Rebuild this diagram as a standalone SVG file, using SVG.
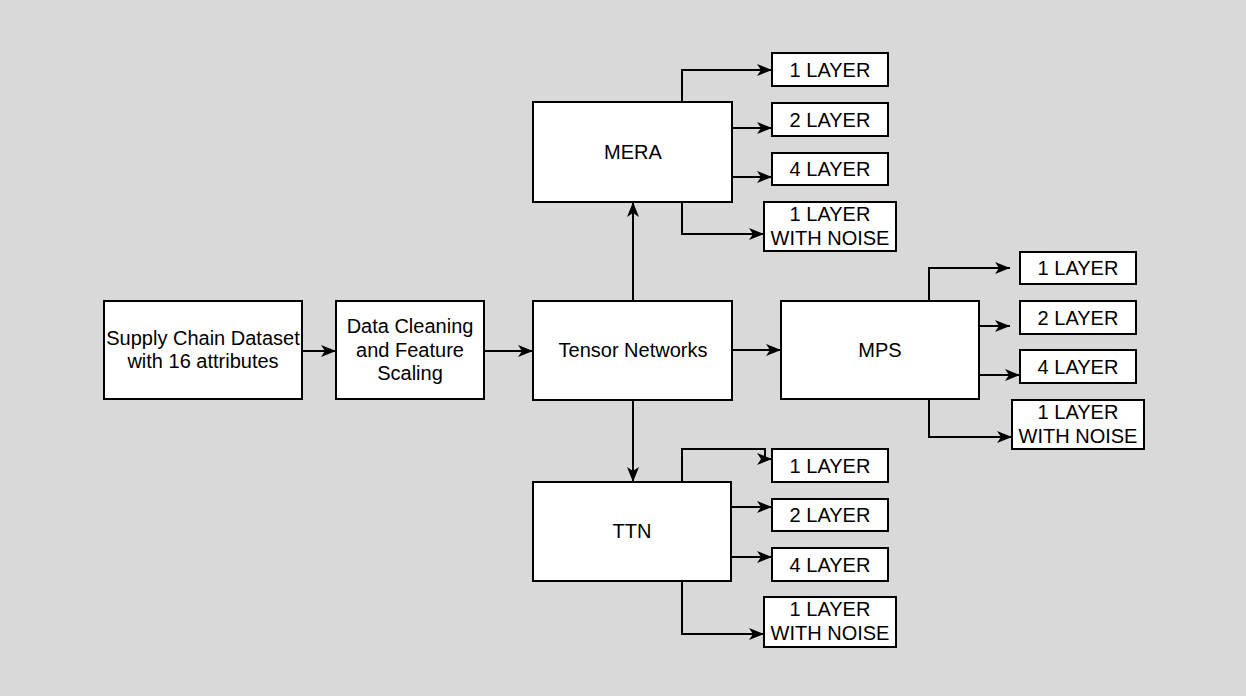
<svg xmlns="http://www.w3.org/2000/svg" width="1246" height="696" viewBox="0 0 1246 696">
<style>
.box{fill:#fff;stroke:#000;stroke-width:2}
.t{font-family:"Liberation Sans",Arial,sans-serif;font-size:20px;fill:#000;text-anchor:middle}
.c{fill:none;stroke:#000;stroke-width:2;marker-end:url(#ah)}
</style>
<defs>
<marker id="ah" viewBox="0 0 15 12" refX="15" refY="6" markerWidth="15" markerHeight="12" markerUnits="userSpaceOnUse" orient="auto">
<path d="M0,0 L15,6 L0,12 L4,6 Z" fill="#000"/>
</marker>
</defs>
<rect width="1246" height="696" fill="#d9d9d9"/>
<g id="connectors">
<path class="c" d="M302 351 H336"/>
<path class="c" d="M484 351 H533"/>
<path class="c" d="M633 301 V202"/>
<path class="c" d="M732 350 H781"/>
<path class="c" d="M633 400 V482"/>
<path class="c" d="M682 102 V70 H772"/>
<path class="c" d="M732 128 H772"/>
<path class="c" d="M732 177 H772"/>
<path class="c" d="M682 202 V234 H764"/>
<path class="c" d="M929 301 V268 H1010"/>
<path class="c" d="M979 326 H1010"/>
<path class="c" d="M979 375 H1020"/>
<path class="c" d="M929 399 V437 H1012"/>
<path class="c" d="M682 482 V449 H765 V459 H772"/>
<path class="c" d="M731 507 H772"/>
<path class="c" d="M731 557 H772"/>
<path class="c" d="M682 581 V634 H764"/>
</g>
<g id="supply"><rect class="box" x="104" y="301" width="198" height="98"/><text class="t" x="203" y="345">Supply Chain Dataset</text><text class="t" x="203" y="368">with 16 attributes</text></g>
<g id="cleaning"><rect class="box" x="336" y="301" width="148" height="98"/><text class="t" x="410" y="333">Data Cleaning</text><text class="t" x="410" y="356.5">and Feature</text><text class="t" x="410" y="380">Scaling</text></g>
<g id="tensor"><rect class="box" x="533" y="301" width="199" height="99"/><text class="t" x="633" y="357">Tensor Networks</text></g>
<g id="mera"><rect class="box" x="533" y="102" width="199" height="100"/><text class="t" x="633" y="159">MERA</text></g>
<g id="mps"><rect class="box" x="781" y="301" width="198" height="98"/><text class="t" x="880" y="357">MPS</text></g>
<g id="ttn"><rect class="box" x="533" y="482" width="198" height="99"/><text class="t" x="632" y="538">TTN</text></g>
<g id="mera1"><rect class="box" x="772" y="53" width="116" height="33"/><text class="t" x="830" y="76.5">1 LAYER</text></g>
<g id="mera2"><rect class="box" x="772" y="103" width="116" height="33"/><text class="t" x="830" y="126.5">2 LAYER</text></g>
<g id="mera4"><rect class="box" x="772" y="153" width="116" height="32"/><text class="t" x="830" y="176">4 LAYER</text></g>
<g id="meraN"><rect class="box" x="764" y="202" width="132" height="49"/><text class="t" x="830" y="221">1 LAYER</text><text class="t" x="830" y="245">WITH NOISE</text></g>
<g id="mps1"><rect class="box" x="1020" y="252" width="116" height="32"/><text class="t" x="1078" y="275">1 LAYER</text></g>
<g id="mps2"><rect class="box" x="1020" y="301" width="116" height="33"/><text class="t" x="1078" y="324.5">2 LAYER</text></g>
<g id="mps4"><rect class="box" x="1020" y="350" width="116" height="33"/><text class="t" x="1078" y="373.5">4 LAYER</text></g>
<g id="mpsN"><rect class="box" x="1012" y="400" width="132" height="49"/><text class="t" x="1078" y="419">1 LAYER</text><text class="t" x="1078" y="443">WITH NOISE</text></g>
<g id="ttn1"><rect class="box" x="772" y="449" width="116" height="33"/><text class="t" x="830" y="472.5">1 LAYER</text></g>
<g id="ttn2"><rect class="box" x="772" y="499" width="116" height="32"/><text class="t" x="830" y="522">2 LAYER</text></g>
<g id="ttn4"><rect class="box" x="772" y="548" width="116" height="33"/><text class="t" x="830" y="571.5">4 LAYER</text></g>
<g id="ttnN"><rect class="box" x="764" y="597" width="132" height="50"/><text class="t" x="830" y="616">1 LAYER</text><text class="t" x="830" y="640">WITH NOISE</text></g>
</svg>
